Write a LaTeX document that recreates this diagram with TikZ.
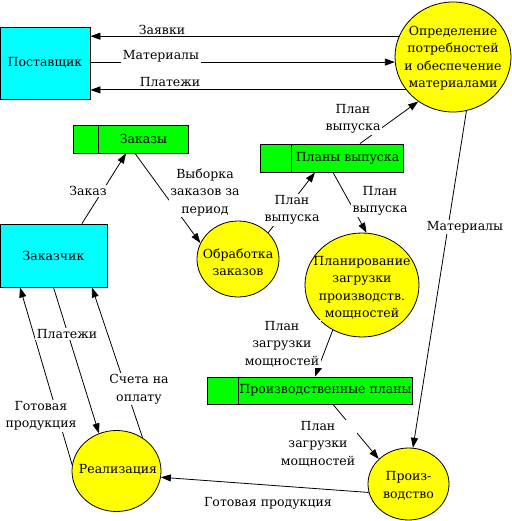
\documentclass[tikz,border=0pt]{standalone}
\usepackage{fontspec}
\setmainfont{DejaVu Serif}
\usetikzlibrary{shapes.geometric,arrows.meta,calc}
\definecolor{cy}{RGB}{0,255,255}
\definecolor{ye}{RGB}{255,255,0}
\definecolor{gr}{RGB}{0,255,0}
\begin{document}
\begin{tikzpicture}[x=1pt,y=-1pt,
  every node/.style={font=\fontsize{12.5}{17.5}\selectfont},
  ent/.style={draw,line width=0.9pt,fill=cy,inner sep=0pt},
  proc/.style={ellipse,draw,line width=0.8pt,fill=ye,inner sep=0pt},
  store/.style={draw,line width=0.9pt,fill=gr,inner sep=0pt},
  ptext/.style={align=center,inner sep=0pt},
  lab/.style={fill=white,inner sep=1.5pt,align=center},
  arr/.style={line width=0.8pt,-{Triangle[length=10pt,width=7pt]}},
  con/.style={line width=0.8pt}]
\useasboundingbox (0,0) rectangle (511,521);
% entities
\node[ent,minimum width=90pt,minimum height=72pt] (prov) at (45,63) {Поставщик};
\node[ent,minimum width=107pt,minimum height=63pt] (cust) at (53.5,255.5) {Заказчик};
% processes
\node[proc,minimum width=116pt,minimum height=110pt] (opr) at (453,57) {};
\node[ptext] (oprt) at (453,58) {Определение\\потребностей\\и обеспечение\\материалами};
\node[proc,minimum width=82pt,minimum height=76pt] (obr) at (238,259) {};
\node[ptext] (obrt) at (238,262) {Обработка\\заказов};
\node[proc,minimum width=114pt,minimum height=104pt] (plan) at (362,285) {};
\node[ptext] (plant) at (362,288) {Планирование\\загрузки\\производств.\\мощностей};
\node[proc,minimum width=81pt,minimum height=72pt] (proizv) at (408.5,484) {};
\node[ptext] (proizvt) at (408.5,486) {Произ-\\водство};
\node[proc,minimum width=89pt,minimum height=81pt] (real) at (116.5,471) {};
\node[ptext] (realt) at (118,470) {Реализация};
% stores
\node[store,minimum width=115pt,minimum height=28pt] (zak) at (130.5,139) {};
\draw[line width=0.9pt] ([xshift=26pt]zak.north west) -- ([xshift=26pt]zak.south west);
\node[ptext] (zakt) at (143.5,139) {Заказы};
\node[store,minimum width=143pt,minimum height=28pt] (plany) at (331.5,158) {};
\draw[line width=0.9pt] ([xshift=32pt]plany.north west) -- ([xshift=32pt]plany.south west);
\node[ptext] (planyt) at (347.5,158) {Планы выпуска};
\node[store,minimum width=205pt,minimum height=27pt] (prodpl) at (309.5,390.5) {};
\draw[line width=0.9pt] ([xshift=32pt]prodpl.north west) -- ([xshift=32pt]prodpl.south west);
\node[ptext] (prodplt) at (325.5,390.5) {Производственные планы};
% connectors
\draw[arr] (opr.159.7) -- (prov.east |- opr.159.7);
\draw[arr] (prov.east |- opr.185.9) -- (opr.185.9);
\draw[arr] (opr.215.4) -- (prov.east |- opr.215.4);
\draw[arr] ([xshift=28.5pt]cust.north) -- ([xshift=-4.5pt]zak.south);
\draw[arr] ([xshift=4.5pt]zak.south) -- (obr.157);
\draw[arr] (obr.41) -- ([xshift=-16.5pt]plany.south);
\draw[arr] ([xshift=28.5pt]plany.north) -- (opr.232);
\draw[arr] ([xshift=1.5pt]plany.south) -- (plan.85);
\draw[arr] (opr.284.7) -- (proizv.83);
\draw[arr] (plan.237.7) -- ([xshift=5.5pt]prodpl.north);
\draw[arr] ([xshift=23.5pt]prodpl.south) -- (proizv.140.5);
\draw[arr] (proizv.192.5) -- (real.352.5);
\draw[arr] (real.172.3) -- ([xshift=-33.5pt]cust.south);
\draw[arr] (cust.south) -- (real.115.4);
\draw[arr] (real.52) -- ([xshift=38.5pt]cust.south);
% labels
\node[lab] (lzay) at (162,30) {Заявки};
\node[lab] (lmat) at (161,56) {Материалы};
\node[lab] (lpla) at (170,82) {Платежи};
\node[lab] (lzak) at (88,191) {Заказ};
\node[lab] (lvyb) at (205,192) {Выборка\\заказов за\\период};
\node[lab] (lpv1) at (292,210) {План\\выпуска};
\node[lab] (lpv2) at (353,119) {План\\выпуска};
\node[lab] (lpv3) at (380,201) {План\\выпуска};
\node[lab] (lmat2) at (465,227) {Материалы};
\node[lab] (lpz1) at (282,344) {План\\загрузки\\мощностей};
\node[lab] (lpz2) at (318,444) {План\\загрузки\\мощностей};
\node[lab] (lgp) at (268,503) {Готовая продукция};
\node[lab] (lgp2) at (41,416) {Готовая\\продукция};
\node[lab] (lpla2) at (67,334) {Платежи};
\node[lab] (lsch) at (139,389) {Счета на\\оплату};
\end{tikzpicture}
\end{document}
